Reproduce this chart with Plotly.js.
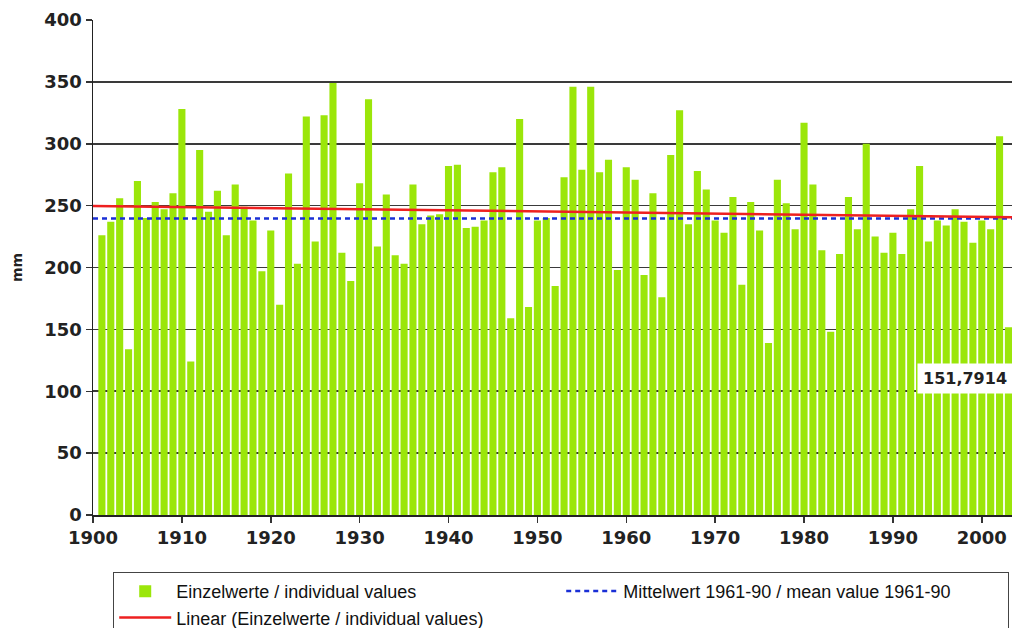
<!DOCTYPE html>
<html>
<head>
<meta charset="utf-8">
<script src="https://cdn.plot.ly/plotly-3.0.1.min.js"></script>
<style>html,body{margin:0;padding:0;background:#fff;}#chart{width:1012px;height:628px;}</style>
</head>
<body>
<div id="chart"></div>
<script>
const years = [];
for (let y = 1901; y <= 2003; y++) years.push(y);

const values = [
  226, 237, 256, 134, 270, 240, 253, 247, 260, 328,
  124, 295, 245, 262, 226, 267, 249, 238, 197, 230,
  170, 276, 203, 322, 221, 323, 349, 212, 189, 268,
  336, 217, 259, 210, 203, 267, 235, 242, 243, 282,
  283, 232, 233, 238, 277, 281, 159, 320, 168, 238,
  240, 185, 273, 346, 279, 346, 277, 287, 198, 281,
  271, 194, 260, 176, 291, 327, 235, 278, 263, 238,
  228, 257, 186, 253, 230, 139, 271, 252, 231, 317,
  267, 214, 148, 211, 257, 231, 300, 225, 212, 228,
  211, 247, 282, 221, 238, 234, 247, 237, 220, 238,
  231, 306, 151.7914
];

const trendYears = [1900, 2003.5];
const trendValues = [249.7, 240.6];

const meanYears = [1900, 2003.5];
const meanValues = [239.5, 239.5];

const lastLabel = "151,7914";

const traces = [
  {
    type: 'bar', x: years, y: values,
    name: 'Einzelwerte / individual values',
    marker: {color: '#9be60a', line: {width: 0}},
    hoverinfo: 'x+y'
  },
  {
    type: 'scatter', mode: 'lines', x: meanYears, y: meanValues,
    name: 'Mittelwert 1961-90 / mean value 1961-90',
    line: {color: '#1a2fd6', width: 2.5, dash: '5px,4px'}
  },
  {
    type: 'scatter', mode: 'lines', x: trendYears, y: trendValues,
    name: 'Linear (Einzelwerte / individual values)',
    line: {color: '#ee2020', width: 2.5}
  }
];

const tickFont = {family: 'DejaVu Sans, Arial, sans-serif', size: 18, color: '#222', weight: 'bold'};

const layout = {
  width: 1012, height: 628,
  margin: {l: 93, r: 0, t: 20, b: 113, autoexpand: false},
  paper_bgcolor: '#fff', plot_bgcolor: '#fff',
  bargap: 0.2,
  showlegend: true,
  xaxis: {
    range: [1900, 2003.4],
    tickmode: 'linear', tick0: 1900, dtick: 10,
    ticks: 'outside', ticklen: 6, tickcolor: '#333', tickwidth: 1.5,
    showline: true, linecolor: '#222', linewidth: 1.5,
    showgrid: false, zeroline: false,
    tickfont: tickFont
  },
  yaxis: {
    range: [0, 400],
    tickmode: 'linear', tick0: 0, dtick: 50,
    ticks: 'outside', ticklen: 6, tickcolor: '#333', tickwidth: 1.5,
    showline: true, linecolor: '#222', linewidth: 1.5,
    showgrid: true, gridcolor: '#3a3a3a', gridwidth: 1.6,
    zeroline: false,
    tickfont: tickFont,
    title: {text: 'mm', font: {family: 'DejaVu Sans, Arial, sans-serif', size: 14, color: '#222', weight: 'bold'}, standoff: 18}
  },
  legend: {
    orientation: 'h',
    x: 0.022, xanchor: 'left',
    y: -0.115, yanchor: 'top',
    entrywidth: 380, entrywidthmode: 'pixels',
    bordercolor: '#444', borderwidth: 1,
    bgcolor: '#fff',
    font: {family: 'Liberation Sans, Arial, sans-serif', size: 18, color: '#111'},
    tracegroupgap: 0, itemwidth: 52
  },
  annotations: [{
    x: 1998.1, y: 110.7, xref: 'x', yref: 'y',
    text: lastLabel, showarrow: false,
    bgcolor: '#fff', borderpad: 5,
    font: {family: 'DejaVu Sans, Arial, sans-serif', size: 16, color: '#222', weight: 'bold'}
  }]
};

Plotly.newPlot('chart', traces, layout, {displayModeBar: false, staticPlot: true});
</script>
</body>
</html>
